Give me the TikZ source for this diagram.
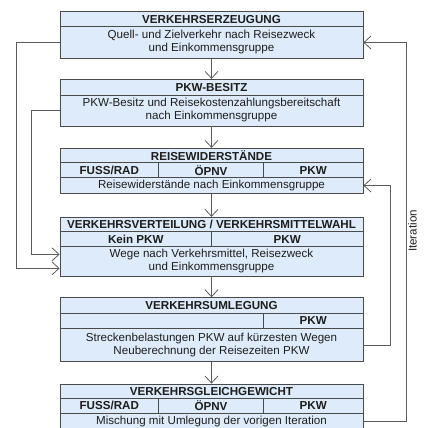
\documentclass[tikz,border=0pt]{standalone}
\usepackage{fontspec}
\setmainfont{Liberation Sans}
\usetikzlibrary{arrows.meta}
\definecolor{cellfill}{HTML}{DDEBFA}
\definecolor{rule}{HTML}{4A4A4A}
\definecolor{wire}{HTML}{5C5C5C}
\definecolor{ink}{HTML}{1E1E1E}
\begin{document}
\begin{tikzpicture}[x=1pt,y=-1pt,
  cell/.style={draw=rule, fill=cellfill, line width=0.8pt, inner sep=0pt,
    text=ink, align=center, font=\fontsize{11.6}{13}\selectfont},
  head/.style={cell, font=\fontsize{11.6}{13}\selectfont\bfseries},
  flow/.style={draw=wire, line width=0.9pt,
    -{Straight Barb[length=7pt,width=13pt,line width=0.8pt]}}]
\useasboundingbox (0,0) rectangle (429,428);
\clip (0,0) rectangle (429,428);

% Verkehrserzeugung
\node[head, minimum width=303, minimum height=15] (b1t) at (211.5,19.2) {VERKEHRSERZEUGUNG};
\node[cell, minimum width=303, minimum height=31.6] (b1b) at (211.5,42.5)
  {Quell- und Zielverkehr nach Reisezweck\\und Einkommensgruppe};

% PKW-Besitz
\node[head, minimum width=303, minimum height=15.7] (b2t) at (211.5,87.15) {PKW-BESITZ};
\node[cell, minimum width=303, minimum height=31] (b2b) at (211.5,110.5)
  {PKW-Besitz und Reisekostenzahlungsbereitschaft\\nach Einkommensgruppe};

% Reisewiderstaende
\node[head, minimum width=303, minimum height=14.4] (b3t) at (211.5,155.5) {REISEWIDERSTÄNDE};
\node[head, minimum width=98.5, minimum height=15] (b3a) at (109.25,170.2) {FUSS/RAD};
\node[head, minimum width=105, minimum height=15] (b3m) at (211,170.2) {ÖPNV};
\node[head, minimum width=99.5, minimum height=15] (b3c) at (313.25,170.2) {PKW};
\node[cell, minimum width=303, minimum height=15.6] (b3b) at (211.5,185.5)
  {Reisewiderstände nach Einkommensgruppe};

% Verkehrsverteilung / Verkehrsmittelwahl
\node[head, minimum width=303, minimum height=14.4] (b4t) at (211.5,224.5)
  {VERKEHRSVERTEILUNG / VERKEHRSMITTELWAHL};
\node[head, minimum width=151.5, minimum height=15] (b4a) at (135.75,239.2) {Kein PKW};
\node[head, minimum width=151.5, minimum height=15] (b4b) at (287.25,239.2) {PKW};
\node[cell, minimum width=303, minimum height=29.3] (b4c) at (211.5,261.35)
  {Wege nach Verkehrsmittel, Reisezweck\\und Einkommensgruppe};

% Verkehrsumlegung
\node[head, minimum width=303, minimum height=15.6] (b5t) at (211.5,305.5) {VERKEHRSUMLEGUNG};
\node[head, minimum width=203.5, minimum height=15] (b5a) at (161.75,320.8) {};
\node[head, minimum width=99.5, minimum height=15] (b5b) at (313.25,320.8) {PKW};
\node[cell, minimum width=303, minimum height=33.4] (b5c) at (211.5,345)
  {Streckenbelastungen PKW auf kürzesten Wegen\\Neuberechnung der Reisezeiten PKW};

% Verkehrsgleichgewicht
\node[head, minimum width=303, minimum height=14.3] (b6t) at (211.5,391.15) {VERKEHRSGLEICHGEWICHT};
\node[head, minimum width=98.5, minimum height=15] (b6a) at (109.25,405.8) {FUSS/RAD};
\node[head, minimum width=105, minimum height=15] (b6m) at (211,405.8) {ÖPNV};
\node[head, minimum width=99.5, minimum height=15] (b6c) at (313.25,405.8) {PKW};
\node[cell, minimum width=303, minimum height=16.7] (b6d) at (211.5,421.65)
  {Mischung mit Umlegung der vorigen Iteration};

% main sequence
\draw[flow] (b1b.south) -- (b2t.north);
\draw[flow] (b2b.south) -- (b3t.north);
\draw[flow] (b3b.south) -- (b4t.north);
\draw[flow] (b4c.south) -- (b5t.north);
\draw[flow] (b5c.south) -- (b6t.north);

% feedback on the left
\draw[flow] (b1b.west) -- ++(-42.7,0) |- ([yshift=-7pt]b4c.west);
\draw[flow] (b2b.west) -- ++(-27.7,0) |- ([yshift=7pt]b4c.west);

% iteration loops on the right
\draw[flow] (b5c.east) -- ++(27,0) |- (b3b.east);
\draw[flow] (b6d.east) -- ++(43,0) |- (b1b.east);
\node[rotate=90, inner sep=0pt, text=ink, font=\fontsize{11.6}{13}\selectfont] (iter) at (412.5,231) {Iteration};
\end{tikzpicture}
\end{document}
